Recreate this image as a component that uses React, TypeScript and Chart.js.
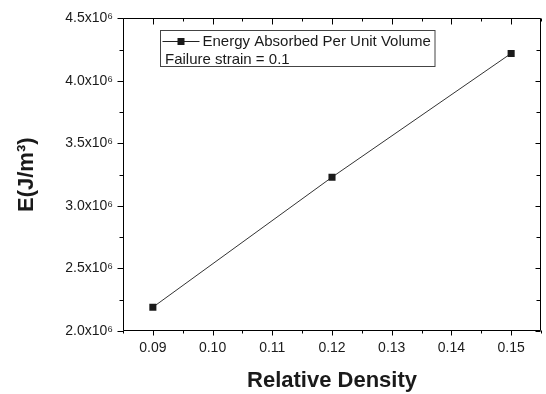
import React, { useEffect, useRef } from "react";
import { Chart, registerables } from "chart.js";

Chart.register(...registerables);

const relativeDensity = [0.09, 0.12, 0.15];
const energyAbsorbed = [2.19e6, 3.23e6, 4.22e6];
const xTickValues = [0.09, 0.1, 0.11, 0.12, 0.13, 0.14, 0.15];
const yTickValues = [2.0e6, 2.5e6, 3.0e6, 3.5e6, 4.0e6, 4.5e6];
const seriesLabel = "Energy Absorbed Per Unit Volume";
const legendNote = "Failure strain = 0.1";
const xTitle = "Relative Density";
const yTitle = "E(J/m³)";

const FONT = "'Liberation Sans', Arial, Helvetica, sans-serif";
const INK = "#1a1a1a";

function midpoints(vals: number[], min: number, max: number): number[] {
  const out: number[] = [];
  const step = vals[1] - vals[0];
  const first = vals[0] - step / 2;
  if (first >= min - 1e-12) out.push(first);
  for (let i = 0; i < vals.length - 1; i++) out.push((vals[i] + vals[i + 1]) / 2);
  const last = vals[vals.length - 1] + step / 2;
  if (last <= max + 1e-12) out.push(last);
  return out;
}

const framePlugin = {
  id: "originFrame",
  afterDatasetsDraw(chart: any) {
    const { ctx, chartArea } = chart;
    const xs = chart.scales.x;
    const ys = chart.scales.y;
    const L = Math.round(chartArea.left) + 0.5;
    const R = Math.round(chartArea.right) - 0.5;
    const T = Math.round(chartArea.top) + 0.5;
    const B = Math.round(chartArea.bottom) - 0.5;
    ctx.save();
    ctx.strokeStyle = "#000";
    ctx.lineWidth = 1;
    ctx.beginPath();
    ctx.rect(L, T, R - L, B - T);
    ctx.stroke();

    const xMinor = midpoints(xTickValues, xs.min, xs.max);
    const yMinor = midpoints(yTickValues, ys.min, ys.max);
    ctx.beginPath();
    xTickValues.forEach((v) => {
      const px = Math.round(xs.getPixelForValue(v)) + 0.5;
      ctx.moveTo(px, B); ctx.lineTo(px, B + 5);
      ctx.moveTo(px, T); ctx.lineTo(px, T + 6);
    });
    xMinor.forEach((v) => {
      const px = Math.round(xs.getPixelForValue(v)) + 0.5;
      ctx.moveTo(px, B); ctx.lineTo(px, B + 3);
      ctx.moveTo(px, T); ctx.lineTo(px, T + 3);
    });
    yTickValues.forEach((v) => {
      const py = Math.round(ys.getPixelForValue(v)) + 0.5;
      ctx.moveTo(L, py); ctx.lineTo(L - 6, py);
      ctx.moveTo(R, py); ctx.lineTo(R - 5, py);
    });
    yMinor.forEach((v) => {
      const py = Math.round(ys.getPixelForValue(v)) + 0.5;
      ctx.moveTo(L, py); ctx.lineTo(L - 4, py);
      ctx.moveTo(R, py); ctx.lineTo(R - 4, py);
    });
    ctx.stroke();
    ctx.restore();
  },
  afterDraw(chart: any) {
    const { ctx, chartArea } = chart;
    const bx = chartArea.left + 37.5;
    const by = 30.5;
    const bw = 274.5;
    const bh = 36;
    ctx.save();
    ctx.fillStyle = "#fff";
    ctx.fillRect(bx, by, bw, bh);
    ctx.strokeStyle = "#444";
    ctx.lineWidth = 1;
    ctx.strokeRect(bx, by, bw, bh);
    const ly = 41;
    ctx.strokeStyle = "#222";
    ctx.beginPath();
    ctx.moveTo(bx + 2, ly + 0.5);
    ctx.lineTo(bx + 39, ly + 0.5);
    ctx.stroke();
    ctx.fillStyle = "#1a1a1a";
    ctx.fillRect(bx + 17, ly - 3, 7, 7);
    ctx.fillStyle = INK;
    ctx.font = `15px ${FONT}`;
    ctx.textBaseline = "alphabetic";
    ctx.textAlign = "left";
    ctx.fillText(seriesLabel, bx + 42, 45.5);
    ctx.fillText(legendNote, bx + 4.5, 64);
    ctx.restore();
  },
};

export default function App() {
  const canvasRef = useRef<HTMLCanvasElement | null>(null);

  useEffect(() => {
    const canvas = canvasRef.current;
    if (!canvas) return;
    const points = relativeDensity.map((x, i) => ({ x, y: energyAbsorbed[i] }));
    const chart = new Chart(canvas, {
      type: "scatter",
      data: {
        datasets: [
          {
            label: seriesLabel,
            data: points,
            showLine: true,
            borderColor: "#333",
            borderWidth: 1,
            pointStyle: "rect",
            pointRadius: 5,
            pointBorderWidth: 0,
            pointBackgroundColor: "#1a1a1a",
            pointBorderColor: "#1a1a1a",
          },
        ],
      },
      options: {
        responsive: false,
        animation: false,
        devicePixelRatio: 1,
        layout: { padding: { top: 15, right: 0, left: 0, bottom: 0 } },
        plugins: {
          legend: { display: false },
          tooltip: { enabled: false },
        },
        scales: {
          x: {
            type: "linear",
            min: 0.085,
            max: 0.155,
            afterBuildTicks: (scale: any) => {
              scale.ticks = xTickValues.map((v) => ({ value: v }));
            },
            afterFit: (scale: any) => {
              scale.height = 63;
            },
            grid: { display: false, drawTicks: false },
            border: { display: false },
            ticks: {
              padding: 9,
              color: INK,
              font: { family: FONT, size: 14 },
              maxRotation: 0,
              autoSkip: false,
              callback: (v: any) => Number(v).toFixed(2),
            },
            title: {
              display: true,
              text: xTitle,
              color: INK,
              font: { family: FONT, size: 22, weight: "bold" },
              padding: { top: 2, bottom: 0 },
            },
          },
          y: {
            type: "linear",
            min: 2.0e6,
            max: 4.5e6,
            afterBuildTicks: (scale: any) => {
              scale.ticks = yTickValues.map((v) => ({ value: v }));
            },
            afterFit: (scale: any) => {
              scale.width = 123;
            },
            grid: { display: false, drawTicks: false },
            border: { display: false },
            ticks: {
              padding: 10,
              color: INK,
              font: { family: FONT, size: 14 },
              autoSkip: false,
              callback: (v: any) => (Number(v) / 1e6).toFixed(1) + "x10⁶",
            },
            title: {
              display: true,
              text: yTitle,
              color: INK,
              font: { family: FONT, size: 22, weight: "bold" },
              padding: { top: 14, bottom: 0 },
            },
          },
        },
      },
      plugins: [framePlugin],
    } as any);
    return () => chart.destroy();
  }, []);

  return (
    <div style={{ position: "fixed", left: 0, top: 0, width: 546, height: 394, background: "#fff" }}>
      <canvas ref={canvasRef} width={546} height={394} style={{ display: "block" }} />
    </div>
  );
}
